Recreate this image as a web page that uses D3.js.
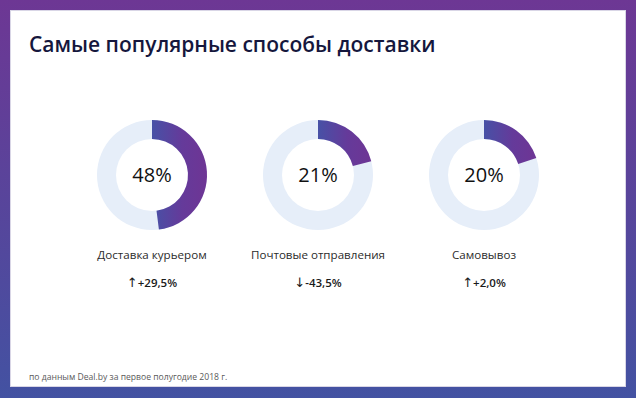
<!DOCTYPE html>
<html><head><meta charset="utf-8">
<script src="https://cdn.jsdelivr.net/npm/d3@7"></script>
<style>html,body{margin:0;padding:0;background:#fff;}svg{display:block;}</style>
</head><body>
<svg id="c" width="636" height="398"></svg>
<script>
const categories = ["Доставка курьером", "Почтовые отправления", "Самовывоз"];
const values = [48, 21, 20];
const changes = ["+29,5%", "-43,5%", "+2,0%"];
const arrows = ["↑", "↓", "↑"];
const title = "Самые популярные способы доставки";
const footer = "по данным Deal.by за первое полугодие 2018 г.";

const W = 636, H = 398;
const svg = d3.select("#c");
const defs = svg.append("defs");
const bg = defs.append("linearGradient").attr("id","bg").attr("x1",0).attr("y1",0).attr("x2",0).attr("y2",1);
bg.append("stop").attr("offset","0%").attr("stop-color","#6d3794");
bg.append("stop").attr("offset","100%").attr("stop-color","#4352a2");
const ag = defs.append("linearGradient").attr("id","arcg").attr("x1",0).attr("y1",0).attr("x2",1).attr("y2",0);
ag.append("stop").attr("offset","0%").attr("stop-color","#4751a6");
ag.append("stop").attr("offset","55%").attr("stop-color","#653a9a");
ag.append("stop").attr("offset","100%").attr("stop-color","#6e3594");

svg.append("rect").attr("width",W).attr("height",H).attr("fill","url(#bg)");
svg.append("rect").attr("x",10.5).attr("y",10.5).attr("width",615).attr("height",376)
  .attr("fill","#fff").attr("stroke","#d9d6e6").attr("stroke-width",1);

const font = "'Open Sans', 'Noto Sans', sans-serif";
svg.append("text").attr("x",29).attr("y",52).text(title)
  .attr("font-family",font).attr("font-size",21).attr("font-weight",600).attr("fill","#15173d");

const x = d3.scalePoint().domain(categories).range([152,484]);
const pct = d3.scaleLinear().domain([0,100]).range([0,2*Math.PI]);
const arc = d3.arc().innerRadius(36).outerRadius(55);
const cy = 175;

categories.forEach((c,i)=>{
  const g = svg.append("g").attr("transform",`translate(${x(c)},${cy})`);
  g.append("path").attr("d",arc({startAngle:0,endAngle:2*Math.PI})).attr("fill","#e6eef9");
  g.append("path").attr("d",arc({startAngle:0,endAngle:pct(values[i])})).attr("fill","url(#arcg)");
  g.append("text").attr("y",7).attr("text-anchor","middle").text(values[i]+"%")
    .attr("font-family",font).attr("font-size",20).attr("font-weight",500).attr("fill","#111");
  g.append("text").attr("y",84).attr("text-anchor","middle").text(c)
    .attr("font-family",font).attr("font-size",11.6).attr("fill","#2b2b2b");
  const t = g.append("text").attr("y",112).attr("text-anchor","middle")
    .attr("font-family",font).attr("font-size",11.5).attr("font-weight",600).attr("fill","#1a1a1a");
  t.append("tspan").attr("font-family","'DejaVu Sans', sans-serif").attr("font-size",13).attr("font-weight",400).text(arrows[i]);
  t.append("tspan").text(changes[i]);
});

svg.append("text").attr("x",29).attr("y",380).text(footer)
  .attr("font-family",font).attr("font-size",8.6).attr("fill","#5a5a5a");
</script>
</body></html>
